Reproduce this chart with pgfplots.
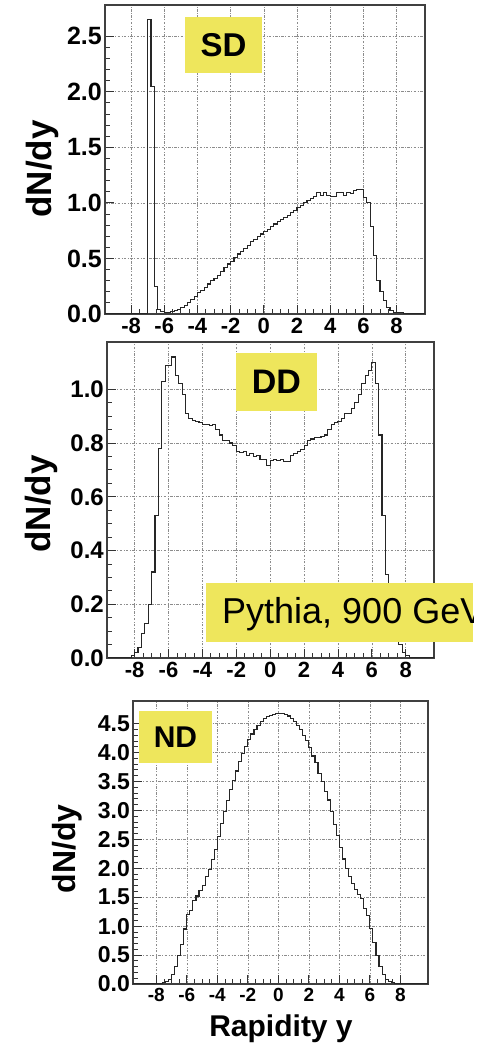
\documentclass[border=0pt]{standalone}
\usepackage{fontspec}
\setmainfont{Liberation Sans}
\usepackage{pgfplots}
\pgfplotsset{compat=1.18}
\definecolor{hlyellow}{RGB}{238,230,92}
\pgfplotsset{
  rootstyle/.style={
    scale only axis,
    axis line style={black!75, line width=1.2pt},
    tick style={black!80, line width=0.8pt},
    major tick length=9pt, minor tick length=5pt,
    tick align=inside, tick pos=left,
    xtick={-8,-6,...,8},
    xticklabels={-8,-6,-4,-2,0,2,4,6,8},
    minor x tick num=3,
    grid=major,
    major grid style={black!45, line width=0.6pt, dash pattern=on 2.5pt off 1.5pt on 0.8pt off 1.5pt},
    yticklabel style={inner sep=1pt, xshift=-2pt},
    xticklabel style={inner sep=1pt, yshift=-3pt},
  },
  histo/.style={const plot, black!85, line width=1.1pt, mark=none},
}
\begin{document}
\begin{tikzpicture}
\useasboundingbox (0pt,0pt) rectangle (495pt,1051pt);
% ---------------- SD ----------------
\begin{axis}[rootstyle,
  at={(105pt,737pt)}, anchor=south west,
  width=320pt, height=309pt,
  xmin=-9.57, xmax=9.71, ymin=0, ymax=2.78,
  ytick={0,0.5,1,1.5,2,2.5},
  yticklabels={0.0,0.5,1.0,1.5,2.0,2.5},
  minor y tick num=4,
  yticklabel style={font=\bfseries\fontsize{25}{25}\selectfont},
  xticklabel style={font=\bfseries\fontsize{22}{22}\selectfont},
]
\addplot[histo] coordinates {
(-9.6,0) (-7.0,2.65) (-6.8,2.05) (-6.6,0.25) (-6.4,0.04) (-6.2,0.02) (-6.0,0.01) (-5.8,0.01) (-5.6,0.02) (-5.4,0.03) (-5.2,0.04) (-5.0,0.06) (-4.8,0.08) (-4.6,0.10) (-4.4,0.13) (-4.2,0.16) (-4.0,0.19) (-3.8,0.21) (-3.6,0.24) (-3.4,0.27) (-3.2,0.30) (-3.0,0.32) (-2.8,0.35) (-2.6,0.38) (-2.4,0.42) (-2.2,0.45) (-2.0,0.47) (-1.8,0.51) (-1.6,0.54) (-1.4,0.56) (-1.2,0.59) (-1.0,0.62) (-0.8,0.65) (-0.6,0.67) (-0.4,0.70) (-0.2,0.72) (0.0,0.74) (0.2,0.76) (0.4,0.79) (0.6,0.81) (0.8,0.83) (1.0,0.85) (1.2,0.87) (1.4,0.89) (1.6,0.91) (1.8,0.93) (2.0,0.96) (2.2,0.98) (2.4,1.00) (2.6,1.02) (2.8,1.04) (3.0,1.06) (3.2,1.09) (3.4,1.07) (3.6,1.09) (3.8,1.07) (4.0,1.06) (4.2,1.06) (4.4,1.09) (4.6,1.09) (4.8,1.07) (5.0,1.09) (5.2,1.08) (5.4,1.11) (5.6,1.12) (5.8,1.12) (6.0,1.05) (6.2,1.00) (6.4,0.79) (6.6,0.53) (6.8,0.30) (7.0,0.20) (7.2,0.12) (7.4,0.06) (7.6,0.03) (7.8,0.01) (8.0,0.01) (8.2,0.01) (8.4,0) (9.7,0)
};
\end{axis}
\fill[white] (0pt,0pt) rectangle (495pt,714pt);
% ---------------- DD ----------------
\begin{axis}[rootstyle,
  at={(107pt,393pt)}, anchor=south west,
  width=327pt, height=316pt,
  xmin=-9.63, xmax=9.67, ymin=0, ymax=1.176,
  ytick={0,0.2,0.4,0.6,0.8,1.0},
  yticklabels={0.0,0.2,0.4,0.6,0.8,1.0},
  minor y tick num=3,
  yticklabel style={font=\bfseries\fontsize{24}{24}\selectfont},
  xticklabel style={font=\bfseries\fontsize{22}{22}\selectfont},
]
\addplot[histo] coordinates {
(-9.6,0) (-8.2,0.01) (-8.0,0.02) (-7.8,0.04) (-7.6,0.09) (-7.4,0.13) (-7.2,0.20) (-7.0,0.32) (-6.8,0.53) (-6.6,0.78) (-6.4,1.03) (-6.2,1.09) (-6.0,1.09) (-5.8,1.12) (-5.6,1.05) (-5.4,1.02) (-5.2,0.98) (-5.0,0.91) (-4.8,0.89) (-4.6,0.885) (-4.4,0.88) (-4.2,0.875) (-4.0,0.87) (-3.8,0.87) (-3.6,0.865) (-3.4,0.87) (-3.2,0.85) (-3.0,0.83) (-2.8,0.81) (-2.6,0.81) (-2.4,0.80) (-2.2,0.79) (-2.0,0.77) (-1.8,0.765) (-1.6,0.77) (-1.4,0.755) (-1.2,0.76) (-1.0,0.75) (-0.8,0.755) (-0.6,0.74) (-0.4,0.74) (-0.2,0.715) (0.0,0.735) (0.2,0.74) (0.4,0.735) (0.6,0.74) (0.8,0.73) (1.0,0.73) (1.2,0.755) (1.4,0.76) (1.6,0.77) (1.8,0.775) (2.0,0.79) (2.2,0.81) (2.4,0.815) (2.6,0.82) (2.8,0.82) (3.0,0.825) (3.2,0.83) (3.4,0.85) (3.6,0.87) (3.8,0.875) (4.0,0.88) (4.2,0.89) (4.4,0.91) (4.6,0.91) (4.8,0.93) (5.0,0.95) (5.2,0.98) (5.4,1.02) (5.6,1.05) (5.8,1.07) (6.0,1.10) (6.2,1.02) (6.4,0.83) (6.6,0.53) (6.8,0.31) (7.0,0.20) (7.2,0.13) (7.4,0.08) (7.6,0.05) (7.8,0.02) (8.0,0.01) (8.2,0) (9.7,0)
};
\end{axis}
% ---------------- ND ----------------
\begin{axis}[rootstyle,
  at={(133pt,67pt)}, anchor=south west,
  width=295pt, height=283pt,
  xmin=-9.53, xmax=9.81, ymin=0, ymax=4.89,
  ytick={0,0.5,1,1.5,2,2.5,3,3.5,4,4.5},
  yticklabels={0.0,0.5,1.0,1.5,2.0,2.5,3.0,3.5,4.0,4.5},
  minor y tick num=4,
  yticklabel style={font=\bfseries\fontsize{23}{23}\selectfont},
  xticklabel style={font=\bfseries\fontsize{19}{19}\selectfont},
]
\addplot[histo] coordinates {
(-9.6,0) (-8.0,0.01) (-7.8,0.01) (-7.6,0.02) (-7.4,0.04) (-7.2,0.08) (-7.0,0.16) (-6.8,0.30) (-6.6,0.50) (-6.4,0.68) (-6.2,0.95) (-6.0,1.20) (-5.8,1.27) (-5.6,1.45) (-5.4,1.52) (-5.2,1.62) (-5.0,1.70) (-4.8,1.85) (-4.6,1.98) (-4.4,2.15) (-4.2,2.33) (-4.0,2.55) (-3.8,2.78) (-3.6,2.98) (-3.4,3.17) (-3.2,3.36) (-3.0,3.52) (-2.8,3.68) (-2.6,3.84) (-2.4,3.98) (-2.2,4.10) (-2.0,4.22) (-1.8,4.32) (-1.6,4.40) (-1.4,4.47) (-1.2,4.53) (-1.0,4.58) (-0.8,4.62) (-0.6,4.64) (-0.4,4.66) (-0.2,4.68) (0.0,4.68) (0.2,4.67) (0.4,4.66) (0.6,4.63) (0.8,4.59) (1.0,4.54) (1.2,4.47) (1.4,4.39) (1.6,4.30) (1.8,4.21) (2.0,4.09) (2.2,3.94) (2.4,3.82) (2.6,3.64) (2.8,3.50) (3.0,3.33) (3.2,3.18) (3.4,2.98) (3.6,2.76) (3.8,2.57) (4.0,2.36) (4.2,2.16) (4.4,2.00) (4.6,1.86) (4.8,1.74) (5.0,1.64) (5.2,1.55) (5.4,1.47) (5.6,1.30) (5.8,1.18) (6.0,0.96) (6.2,0.72) (6.4,0.50) (6.6,0.31) (6.8,0.16) (7.0,0.08) (7.2,0.04) (7.4,0.02) (7.6,0.01) (7.8,0.01) (8.0,0) (9.8,0)
};
\end{axis}
% ---------------- labels and boxes ----------------
\node[rotate=90, font=\bfseries\fontsize{35}{35}\selectfont] at (42pt,882pt) {dN/dy};
\node[rotate=90, font=\bfseries\fontsize{35}{35}\selectfont] at (41pt,547pt) {dN/dy};
\node[rotate=90, font=\bfseries\fontsize{32}{32}\selectfont] at (67pt,202pt) {dN/dy};
\node[anchor=base, font=\bfseries\fontsize{30}{30}\selectfont] at (281pt,14.3pt) {Rapidity y};
\fill[hlyellow] (185pt,978pt) rectangle (262pt,1034pt);
\node[font=\bfseries\fontsize{33}{33}\selectfont] at (223.5pt,1006pt) {SD};
\fill[hlyellow] (236pt,640.3pt) rectangle (317pt,698.3pt);
\node[font=\bfseries\fontsize{34}{34}\selectfont] at (276.5pt,669.3pt) {DD};
\fill[hlyellow] (139pt,288.3pt) rectangle (212pt,340.3pt);
\node[font=\bfseries\fontsize{30}{30}\selectfont] at (175.5pt,314.3pt) {ND};
\fill[hlyellow] (206pt,409.3pt) rectangle (473pt,468.3pt);
\begin{scope}
\clip (206pt,409.3pt) rectangle (473pt,468.3pt);
\node[anchor=base west, inner sep=0pt, font=\fontsize{36}{36}\selectfont] at (222pt,427.7pt) {Pythia, 900 GeV};
\end{scope}
\end{tikzpicture}
\end{document}
